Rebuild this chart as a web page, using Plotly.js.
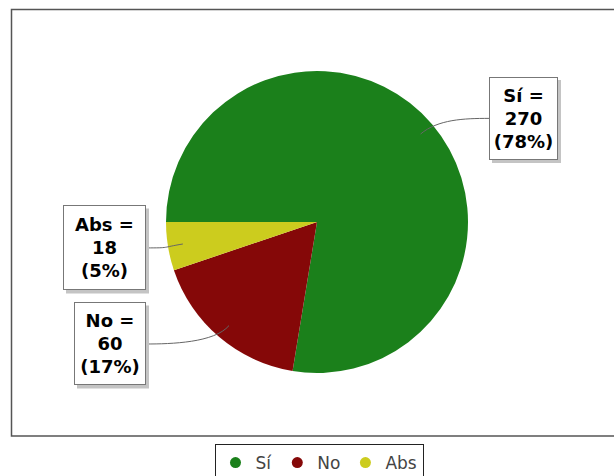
<!DOCTYPE html>
<html>
<head>
<meta charset="utf-8">
<script src="https://cdn.plot.ly/plotly-3.0.1.min.js"></script>
<style>html,body{margin:0;padding:0;background:#fff;}#chart{width:614px;height:476px;}</style>
</head>
<body>
<div id="chart"></div>
<script>
var labels = ['Sí', 'No', 'Abs'];
var values = [270, 60, 18];
var colors = ['#1b801b', '#850808', '#cccc1e'];

var W = 614, H = 476;
var cx = 317, cy = 222, R = 151;
var boxW = [59, 62, 73];
var boxH = [73, 73, 75];

var total = values.reduce(function (a, b) { return a + b; }, 0);

var traces = [{
  type: 'pie',
  labels: labels,
  values: values,
  sort: false,
  direction: 'clockwise',
  rotation: -90,
  textinfo: 'none',
  hoverinfo: 'label+value+percent',
  marker: { colors: colors, line: { width: 0 } },
  showlegend: false,
  domain: { x: [(cx - R) / W, (cx + R) / W], y: [1 - (cy + R) / H, 1 - (cy - R) / H] }
}];

labels.forEach(function (l, i) {
  traces.push({
    type: 'scatter', mode: 'markers', x: [null], y: [null], name: l,
    marker: { color: colors[i], size: 11, symbol: 'circle' },
    hoverinfo: 'skip', showlegend: true
  });
});

function px(x) { return x / W; }
function py(y) { return 1 - y / H; }

var shapes = [{
  type: 'rect', xref: 'paper', yref: 'paper',
  x0: px(11.5), x1: 1.05, y0: py(436), y1: py(9.5),
  line: { color: '#555', width: 1.5 }, layer: 'below'
}];
var annotations = [];
var pad = 4, bw = 1;

var cum = 0;
values.forEach(function (v, i) {
  var frac = (cum + v / 2) / total;
  cum += v;
  var a = Math.PI - 2 * Math.PI * frac;
  var c = Math.cos(a), s = Math.sin(a);
  var ax = cx + 0.9 * R * c, ay = cy - 0.9 * R * s;
  var right = c > 0;
  var by = cy - s * R * 1.06;
  var ex = right ? cx + R + 21 : cx - R - 20;
  var p1x = ax + c * 0.15 * R, p1y = ay - s * 0.15 * R;
  var p2x = ex + (right ? -25 : 25), p2y = by;
  shapes.push({
    type: 'path', xref: 'paper', yref: 'paper', layer: 'above',
    path: 'M ' + px(ax) + ',' + py(ay) + ' C ' + px(p1x) + ',' + py(p1y) + ' ' +
      px(p2x) + ',' + py(p2y) + ' ' + px(ex) + ',' + py(by),
    line: { color: '#666', width: 1 }
  });
  var ow = boxW[i] + 2 * (pad + bw), oh = boxH[i] + 2 * (pad + bw);
  var left = right ? ex : ex - ow;
  var top = by - oh / 2;
  shapes.push({
    type: 'rect', xref: 'paper', yref: 'paper', layer: 'above',
    x0: px(left + 3), x1: px(left + ow + 3), y0: py(top + oh + 3), y1: py(top + 3),
    fillcolor: '#c4c4c4', line: { width: 0 }
  });
  var pct = Math.round(v / total * 100);
  annotations.push({
    xref: 'paper', yref: 'paper', x: px(ex), y: py(by),
    xanchor: right ? 'left' : 'right', yanchor: 'middle',
    showarrow: false, align: 'center',
    text: '<b>' + labels[i] + ' =</b><br><b>' + v + '</b><br><b>(' + pct + '%)</b>',
    font: { family: 'DejaVu Sans', size: 18, color: '#000' },
    width: boxW[i], height: boxH[i],
    borderpad: pad, borderwidth: bw, bgcolor: '#fff', bordercolor: '#777'
  });
});

var layout = {
  width: W, height: H,
  margin: { l: 0, r: 0, t: 0, b: 0, autoexpand: false },
  paper_bgcolor: '#fff', plot_bgcolor: '#fff',
  xaxis: { visible: false }, yaxis: { visible: false },
  showlegend: true,
  legend: {
    orientation: 'h', x: px(319), xanchor: 'center', y: py(444), yanchor: 'top',
    bgcolor: '#fff', bordercolor: '#222', borderwidth: 1,
    font: { family: 'DejaVu Sans', size: 17, color: '#444' },
    itemwidth: 30
  },
  shapes: shapes,
  annotations: annotations
};

Plotly.newPlot('chart', traces, layout, { displayModeBar: false, staticPlot: true });
</script>
</body>
</html>
